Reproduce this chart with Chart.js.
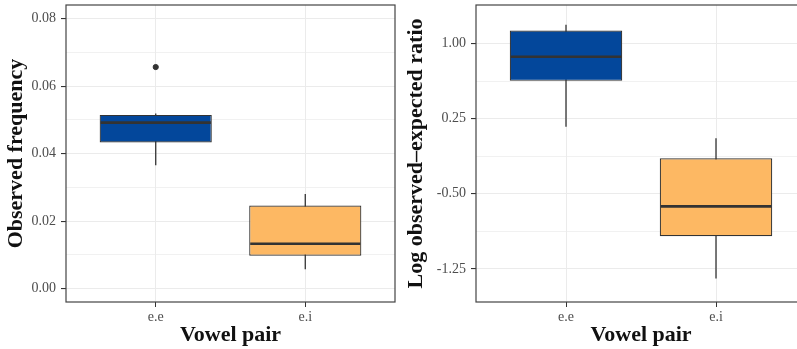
<!DOCTYPE html>
<html>
<head>
<meta charset="utf-8">
<script src="https://cdn.jsdelivr.net/npm/chart.js@4.4.1/dist/chart.umd.min.js"></script>
<style>
    body { margin: 0; background: #fff; }
    #wrap { position: relative; width: 797px; height: 349px; overflow: hidden; }
    #left { position: absolute; left: 0; top: 0; }
    #right { position: absolute; left: 400px; top: 0; }
</style>
</head>
<body>
<div id="wrap">
    <canvas id="left" width="400" height="349"></canvas>
    <canvas id="right" width="408" height="349"></canvas>
</div>
<script>
// categories
const pairs = ['e.e', 'e.i'];

// observed frequency boxes (min whisker, q1, median, q3, max whisker)
const freqLow = [0.0366, 0.0057];
const freqQ1 = [0.0433, 0.0097];
const freqMed = [0.0492, 0.0133];
const freqQ3 = [0.0515, 0.0246];
const freqHigh = [0.0519, 0.0280];
const freqOutlierPair = [1];
const freqOutlierValue = [0.0657];
const freqTicks = [0.00, 0.02, 0.04, 0.06, 0.08];
const freqMinor = [0.01, 0.03, 0.05, 0.07];

// log observed-expected ratio boxes
const ratioLow = [0.17, -1.346];
const ratioQ1 = [0.627, -0.923];
const ratioMed = [0.867, -0.626];
const ratioQ3 = [1.13, -0.146];
const ratioHigh = [1.187, 0.054];
const ratioTicks = [-1.25, -0.50, 0.25, 1.00];
const ratioMinor = [-0.875, -0.125, 0.625];

const boxColors = ['#03479b', '#fdb863'];
const lineColor = '#333333';

// whiskers, medians and the panel border
const boxPlugin = {
    id: 'boxParts',
    beforeDatasetsDraw(chart) {
        const stats = chart.options.plugins.boxParts;
        const x = chart.scales.x, y = chart.scales.y;
        const ctx = chart.ctx;
        ctx.save();
        ctx.strokeStyle = lineColor;
        ctx.lineWidth = 1.3;
        stats.low.forEach(function (lo, i) {
            const px = x.getPixelForValue(i + 1);
            ctx.beginPath();
            ctx.moveTo(px, y.getPixelForValue(lo));
            ctx.lineTo(px, y.getPixelForValue(stats.high[i]));
            ctx.stroke();
        });
        ctx.restore();
    },
    afterDatasetsDraw(chart) {
        const stats = chart.options.plugins.boxParts;
        const y = chart.scales.y;
        const ctx = chart.ctx;
        const bars = chart.getDatasetMeta(0).data;
        ctx.save();
        ctx.strokeStyle = lineColor;
        ctx.lineWidth = 2.6;
        stats.med.forEach(function (m, i) {
            const bar = bars[i];
            const py = y.getPixelForValue(m);
            ctx.beginPath();
            ctx.moveTo(bar.x - bar.width / 2 + 1, py);
            ctx.lineTo(bar.x + bar.width / 2 - 1, py);
            ctx.stroke();
        });
        const a = chart.chartArea;
        ctx.strokeStyle = '#444444';
        ctx.lineWidth = 1.2;
        ctx.strokeRect(a.left, a.top, a.right - a.left, a.bottom - a.top);
        ctx.restore();
    }
};

function makeConfig(stats, majors, minors, yMin, yMax, yTitle, axisWidth) {
    const boxData = pairs.map(function (p, i) {
        return { x: i + 1, y: [stats.q1[i], stats.q3[i]] };
    });
    const datasets = [
        {
            type: 'bar',
            data: boxData,
            backgroundColor: boxColors,
            borderColor: lineColor,
            borderWidth: 1.2,
            borderSkipped: false,
            categoryPercentage: 0.75,
            barPercentage: 1.0,
        },
    ];
    if (stats.outX) {
        datasets.push({
            type: 'scatter',
            data: stats.outX.map(function (px, i) { return { x: px, y: stats.outY[i] }; }),
            pointBackgroundColor: lineColor,
            pointBorderColor: lineColor,
            pointRadius: 2.6,
        });
    }
    return {
        type: 'bar',
        data: { datasets: datasets },
        plugins: [boxPlugin],
        options: {
            responsive: false,
            animation: false,
            layout: { padding: { top: 5, right: 2, left: 0, bottom: 0 } },
            scales: {
                x: {
                    type: 'linear',
                    min: 0.4,
                    max: 2.6,
                    offset: false,
                    afterBuildTicks: function (scale) {
                        scale.ticks = pairs.map(function (p, i) { return { value: i + 1 }; });
                    },
                    afterFit: function (scale) {
                        scale.height = 47;
                        scale.paddingLeft = 0;
                        scale.paddingRight = 0;
                    },
                    ticks: {
                        callback: function (value) { return pairs[value - 1]; },
                        font: { family: 'Liberation Serif', size: 14 },
                        color: '#4d4d4d',
                        padding: 2,
                        maxRotation: 0,
                    },
                    grid: { offset: false, color: '#ebebeb', lineWidth: 1, tickLength: 5, tickColor: lineColor },
                    border: { display: false },
                    title: {
                        display: true,
                        text: 'Vowel pair',
                        font: { family: 'Liberation Serif', size: 22, weight: 'bold' },
                        color: '#111111',
                        padding: { top: 0, bottom: 0 },
                    },
                },
                y: {
                    min: yMin,
                    max: yMax,
                    afterBuildTicks: function (scale) {
                        scale.ticks = majors.concat(minors).sort(function (a, b) { return a - b; })
                            .map(function (v) { return { value: v }; });
                    },
                    afterFit: function (scale) {
                        scale.width = axisWidth;
                        scale.paddingTop = 0;
                        scale.paddingBottom = 0;
                    },
                    ticks: {
                        callback: function (value) {
                            return majors.includes(value) ? value.toFixed(2) : '';
                        },
                        font: { family: 'Liberation Serif', size: 14 },
                        color: '#4d4d4d',
                        padding: 5,
                    },
                    grid: {
                        color: '#ebebeb',
                        lineWidth: function (ctx) {
                            return ctx.tick && majors.includes(ctx.tick.value) ? 1.1 : 0.7;
                        },
                        tickLength: 5,
                        tickColor: function (ctx) {
                            return ctx.tick && majors.includes(ctx.tick.value) ? lineColor : 'rgba(0,0,0,0)';
                        },
                    },
                    border: { display: false },
                    title: {
                        display: true,
                        text: yTitle,
                        font: { family: 'Liberation Serif', size: 22, weight: 'bold' },
                        color: '#111111',
                        padding: { top: 3, bottom: 0 },
                    },
                },
            },
            plugins: {
                legend: { display: false },
                tooltip: { enabled: false },
                boxParts: { low: stats.low, high: stats.high, med: stats.med },
            },
        },
    };
}

const chartLeft = new Chart(
    document.getElementById('left'),
    makeConfig(
        { low: freqLow, q1: freqQ1, med: freqMed, q3: freqQ3, high: freqHigh,
          outX: freqOutlierPair, outY: freqOutlierValue },
        freqTicks, freqMinor, -0.004, 0.0841, 'Observed frequency', 66
    )
);

const chartRight = new Chart(
    document.getElementById('right'),
    makeConfig(
        { low: ratioLow, q1: ratioQ1, med: ratioMed, q3: ratioQ3, high: ratioHigh },
        ratioTicks, ratioMinor, -1.58, 1.384, 'Log observed\u2013expected ratio', 76
    )
);
</script>
</body>
</html>
